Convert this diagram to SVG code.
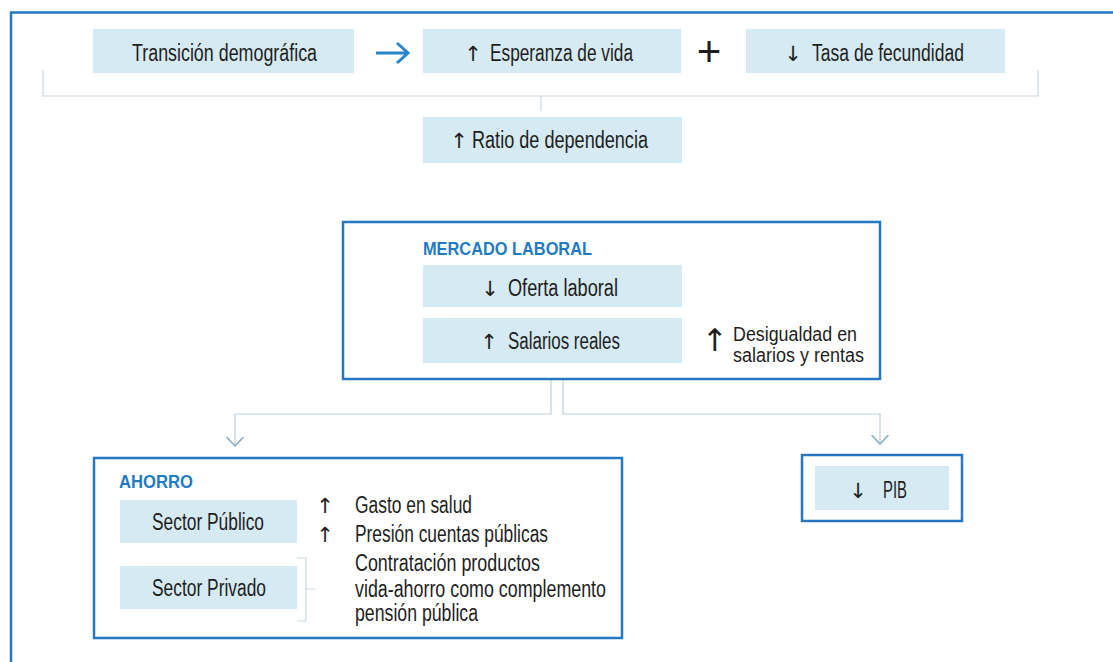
<svg xmlns="http://www.w3.org/2000/svg" width="1113" height="662" viewBox="0 0 1113 662">
<style>
.bg{fill:#ffffff}
.frame{fill:none;stroke:#2577c0;stroke-width:2.5}
.box{fill:#d5eaf3}
.obox{fill:none;stroke:#2577c0;stroke-width:2.5}
.lbl{font-family:"Liberation Sans",Arial,sans-serif;font-size:23px;fill:#1e1e1e}
.sm{font-family:"Liberation Sans",Arial,sans-serif;font-size:20px;fill:#1e1e1e}
.sym{font-family:"DejaVu Sans","Liberation Sans",sans-serif;font-size:21px;fill:#1e1e1e}
.ttl{font-family:"Liberation Sans",Arial,sans-serif;font-size:18px;font-weight:bold;fill:#1f7ac4}
.con{fill:none;stroke:#bdd1db;stroke-width:1.2}
.brk{fill:none;stroke:#c9d9e1;stroke-width:1.2}
</style>
<defs>
<marker id="chev" viewBox="0 0 10 18" refX="9" refY="9" markerWidth="10" markerHeight="18" markerUnits="userSpaceOnUse" orient="auto">
<path d="M0,0.5 L9,9 L0,17.5" fill="none" stroke="#7aa6c4" stroke-width="1.4"/>
</marker>
</defs>
<rect class="bg" x="0" y="0" width="1113" height="662"/>
<path class="frame" d="M11 662 V12.5 H1113"/>

<g id="connectors">
<path class="brk" d="M43 70 V96 H1038 V70"/>
<path class="brk" d="M541 96 V111"/>
<path d="M376 53 H407 M397 43 L408 53 L397 63" fill="none" stroke="#2a85cb" stroke-width="3"/>
<path class="con" d="M551 380 V414 H235 V446" marker-end="url(#chev)"/>
<path class="con" d="M563 380 V414 H880 V444" marker-end="url(#chev)"/>
<path class="brk" d="M297 558 H306 V621 H297 M306 589 H315"/>
</g>

<g id="transicion">
<rect class="box" x="93" y="29" width="261" height="44"/>
<text class="lbl" x="132" y="61" textLength="185" lengthAdjust="spacingAndGlyphs">Transición demográfica</text>
</g>

<g id="esperanza">
<rect class="box" x="423" y="29" width="258" height="44"/>
<text class="sym" x="473" y="61" text-anchor="middle">↑</text>
<text class="lbl" x="490" y="61" textLength="143" lengthAdjust="spacingAndGlyphs">Esperanza de vida</text>
</g>

<g id="plus">
<text x="709" y="66" text-anchor="middle" font-family="Liberation Sans, Arial, sans-serif" font-size="42" fill="#1e1e1e">+</text>
</g>

<g id="fecundidad">
<rect class="box" x="746" y="29" width="259" height="44"/>
<text class="sym" x="793" y="61" text-anchor="middle">↓</text>
<text class="lbl" x="812" y="61" textLength="152" lengthAdjust="spacingAndGlyphs">Tasa de fecundidad</text>
</g>

<g id="ratio">
<rect class="box" x="423" y="117" width="259" height="46"/>
<text class="sym" x="459" y="148" text-anchor="middle">↑</text>
<text class="lbl" x="472" y="148" textLength="176" lengthAdjust="spacingAndGlyphs">Ratio de dependencia</text>
</g>

<g id="mercado">
<rect class="obox" x="343" y="222" width="537" height="157"/>
<text class="ttl" x="423" y="255" textLength="169" lengthAdjust="spacingAndGlyphs">MERCADO LABORAL</text>
<rect class="box" x="423" y="265" width="259" height="42"/>
<text class="sym" x="490" y="296" text-anchor="middle">↓</text>
<text class="lbl" x="508" y="296" textLength="110" lengthAdjust="spacingAndGlyphs">Oferta laboral</text>
<rect class="box" x="423" y="318" width="259" height="45"/>
<text class="sym" x="489" y="349" text-anchor="middle">↑</text>
<text class="lbl" x="508" y="349" textLength="112" lengthAdjust="spacingAndGlyphs">Salarios reales</text>
<text x="715" y="351" text-anchor="middle" font-family="DejaVu Sans, sans-serif" font-size="31" fill="#1e1e1e">↑</text>
<text class="sm" x="733" y="341" textLength="124" lengthAdjust="spacingAndGlyphs">Desigualdad en</text>
<text class="sm" x="733" y="362" textLength="131" lengthAdjust="spacingAndGlyphs">salarios y rentas</text>
</g>

<g id="ahorro">
<rect class="obox" x="94" y="458" width="528" height="180"/>
<text class="ttl" x="119" y="488" textLength="74" lengthAdjust="spacingAndGlyphs">AHORRO</text>
<rect class="box" x="120" y="500" width="177" height="43"/>
<text class="lbl" x="152" y="530" textLength="112" lengthAdjust="spacingAndGlyphs">Sector Público</text>
<rect class="box" x="120" y="566" width="177" height="43"/>
<text class="lbl" x="152" y="596" textLength="114" lengthAdjust="spacingAndGlyphs">Sector Privado</text>
<text class="sym" x="325" y="513" text-anchor="middle">↑</text>
<text class="lbl" x="355" y="513" textLength="117" lengthAdjust="spacingAndGlyphs">Gasto en salud</text>
<text class="sym" x="325" y="542" text-anchor="middle">↑</text>
<text class="lbl" x="355" y="542" textLength="193" lengthAdjust="spacingAndGlyphs">Presión cuentas públicas</text>
<text class="lbl" x="355" y="571" textLength="185" lengthAdjust="spacingAndGlyphs">Contratación productos</text>
<text class="lbl" x="355" y="597" textLength="251" lengthAdjust="spacingAndGlyphs">vida-ahorro como complemento</text>
<text class="lbl" x="355" y="621" textLength="123" lengthAdjust="spacingAndGlyphs">pensión pública</text>
</g>

<g id="pib">
<rect class="obox" x="802" y="455" width="160" height="66"/>
<rect class="box" x="815" y="466" width="134" height="44"/>
<text class="sym" x="858" y="498" text-anchor="middle">↓</text>
<text class="lbl" x="883" y="498" textLength="24" lengthAdjust="spacingAndGlyphs">PIB</text>
</g>
</svg>
